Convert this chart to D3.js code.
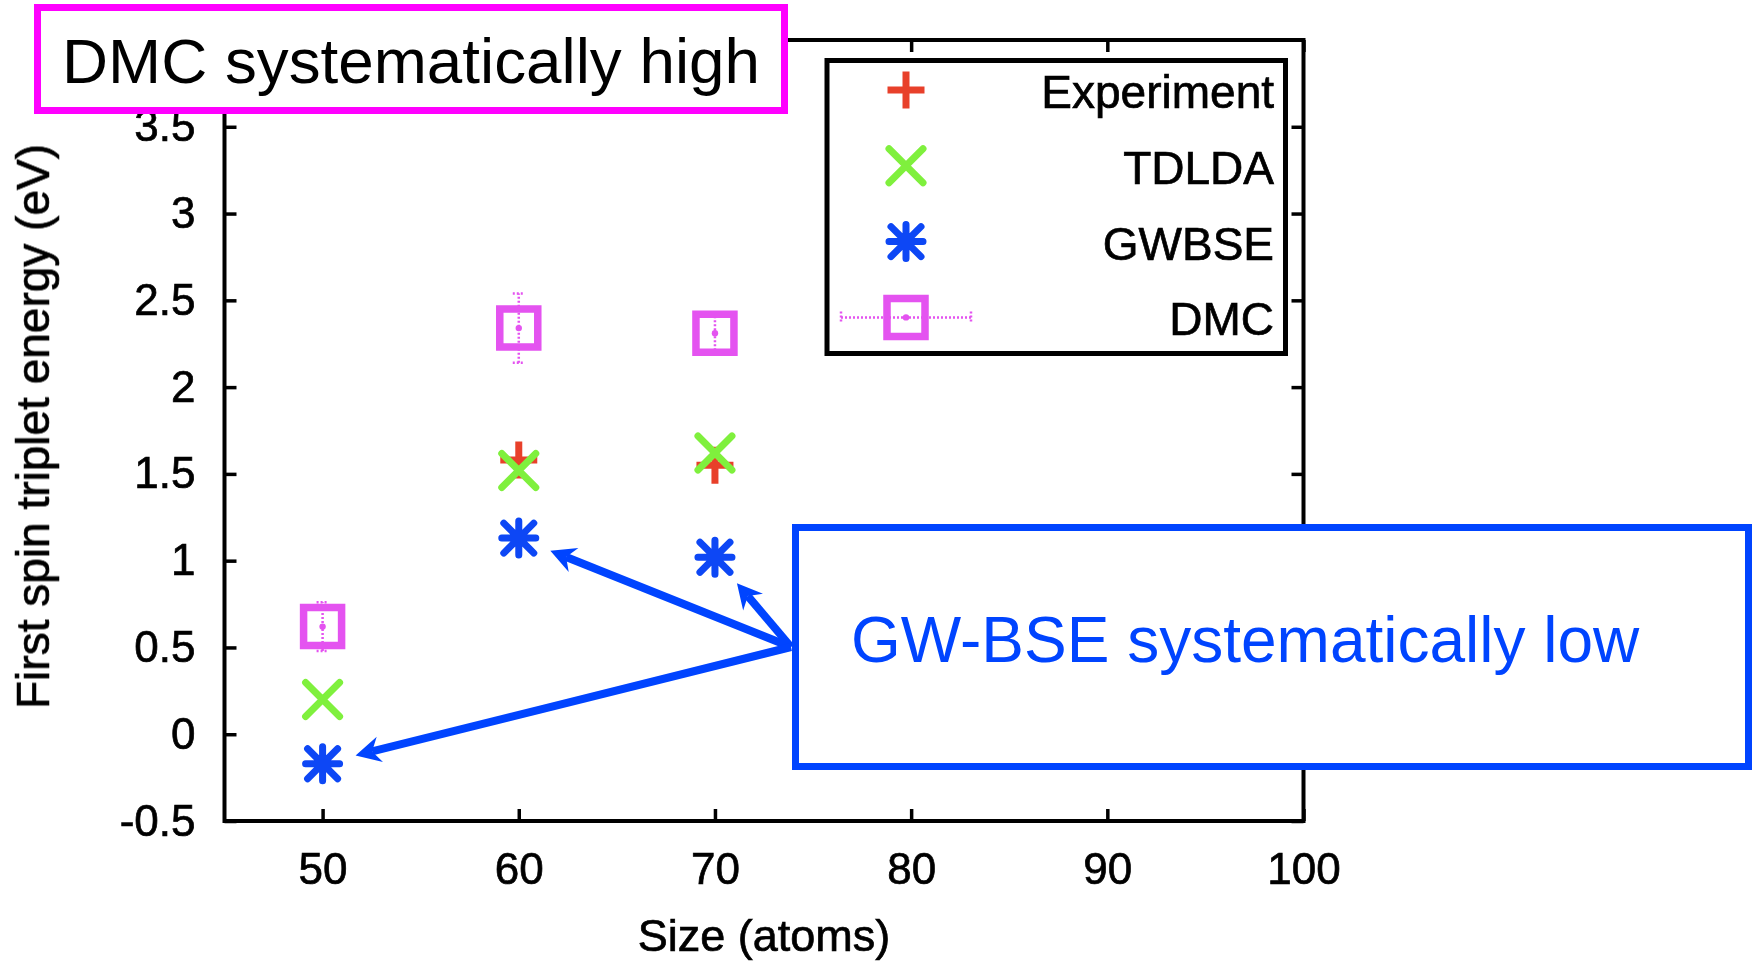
<!DOCTYPE html>
<html>
<head>
<meta charset="utf-8">
<script src="https://cdn.jsdelivr.net/npm/d3@7"></script>
<style>
  html, body { margin: 0; padding: 0; background: #fff; }
  svg { display: block; font-family: "Liberation Sans", Arial, Helvetica, sans-serif; }
</style>
</head>
<body>
<svg id="chart" width="1755" height="963"></svg>
<script>
// Cluster size (number of atoms)
const sizes = [50, 60, 70];
// First spin-triplet excitation energies (eV); null = no measurement
const experiment = [null, 1.58, 1.55];
const tdlda = [0.2, 1.52, 1.62];
const gwbse = [-0.17, 1.13, 1.02];
const dmc = [0.62, 2.34, 2.31];
const dmcErr = [0.14, 0.2, 0.12];

const xTicks = [50, 60, 70, 80, 90, 100];
const yTicks = [-0.5, 0, 0.5, 1, 1.5, 2, 2.5, 3, 3.5];
const seriesNames = ["Experiment", "TDLDA", "GWBSE", "DMC"];
const seriesColors = ["#e8412c", "#7ff03c", "#0b46f5", "#e452f0"];

const dmcNote = "DMC systematically high";
const gwNote = "GW-BSE systematically low";
// GWBSE points singled out by the callout arrows
const gwArrowSizes = [60, 70, 50];

const svg = d3.select("#chart");
const x = d3.scaleLinear().domain([45, 100]).range([224.5, 1303.5]);
const y = d3.scaleLinear().domain([-0.5, 4]).range([821, 40]);

const defs = svg.append("defs");
defs.append("filter").attr("id", "soft")
  .attr("x", "-5%").attr("y", "-5%").attr("width", "110%").attr("height", "110%")
  .append("feGaussianBlur").attr("stdDeviation", 0.7);

const chart = svg.append("g").attr("filter", "url(#soft)");
const ink = "#000";

// ---- axes with inward ticks on all four sides ----
const tickFont = 44;
const gx = chart.append("g").attr("transform", `translate(0,${y.range()[0]})`)
  .call(d3.axisBottom(x).tickValues(xTicks).tickSize(-12).tickPadding(32).tickFormat(d3.format("d")));
const gy = chart.append("g").attr("transform", `translate(${x.range()[0]},0)`)
  .call(d3.axisLeft(y).tickValues(yTicks).tickSize(-12).tickPadding(29).tickFormat(d => String(d)));
const gt = chart.append("g").attr("transform", `translate(0,${y.range()[1]})`)
  .call(d3.axisTop(x).tickValues(xTicks).tickSize(-12).tickFormat(""));
const gr = chart.append("g").attr("transform", `translate(${x.range()[1]},0)`)
  .call(d3.axisRight(y).tickValues(yTicks).tickSize(-12).tickFormat(""));

[gx, gy, gt, gr].forEach(g => {
  g.select(".domain").remove();
  g.selectAll(".tick line").attr("stroke", ink).attr("stroke-width", 3.5);
  g.selectAll(".tick text").attr("fill", ink).attr("font-size", tickFont)
    .attr("stroke", ink).attr("stroke-width", 0.7)
    .attr("font-family", "Liberation Sans, Arial, sans-serif");
});

chart.append("rect")
  .attr("x", x.range()[0]).attr("y", y.range()[1])
  .attr("width", x.range()[1] - x.range()[0]).attr("height", y.range()[0] - y.range()[1])
  .attr("fill", "none").attr("stroke", ink).attr("stroke-width", 4);

// axis titles
chart.append("text")
  .attr("x", (x.range()[0] + x.range()[1]) / 2).attr("y", 951)
  .attr("text-anchor", "middle").attr("font-size", 45).attr("fill", ink)
  .attr("stroke", ink).attr("stroke-width", 0.7)
  .text("Size (atoms)");
chart.append("text")
  .attr("transform", `translate(49,${(y.range()[0] + y.range()[1]) / 2 - 4}) rotate(-90)`)
  .attr("text-anchor", "middle").attr("font-size", 46).attr("fill", ink)
  .attr("stroke", ink).attr("stroke-width", 0.7)
  .text("First spin triplet energy (eV)");

// ---- point symbols ----
const sym = {
  plus: "M-18.5,0H18.5M0,-18.5V18.5",
  cross: "M-17,-17L17,17M-17,17L17,-17",
  star: "M-17,0H17M0,-17V17M-15,-15L15,15M-15,15L15,-15",
  square: "M-19,-19H19V19H-19Z"
};

function drawSymbol(g, kind, color) {
  g.append("path").attr("d", sym[kind]).attr("fill", "none")
    .attr("stroke", color).attr("stroke-width", kind === "square" ? 7.5 : 7)
    .attr("stroke-linecap", kind === "plus" ? "butt" : "round")
    .attr("stroke-linejoin", "miter");
}

const pts = chart.append("g");
const rows = sizes.map((s, i) => ({ s, e: experiment[i], t: tdlda[i], g: gwbse[i], d: dmc[i], err: dmcErr[i] }));

// DMC error bars (dotted, with caps)
rows.forEach(r => {
  const cx = x(r.s), y0 = y(r.d - r.err), y1 = y(r.d + r.err);
  const eb = pts.append("g").attr("stroke", seriesColors[3]).attr("stroke-width", 2.5)
    .attr("stroke-dasharray", "2,2");
  eb.append("line").attr("x1", cx).attr("x2", cx).attr("y1", y0).attr("y2", y1);
  eb.append("line").attr("x1", cx - 6).attr("x2", cx + 6).attr("y1", y0).attr("y2", y0);
  eb.append("line").attr("x1", cx - 6).attr("x2", cx + 6).attr("y1", y1).attr("y2", y1);
  pts.append("circle").attr("cx", cx).attr("cy", y(r.d)).attr("r", 3.2).attr("fill", seriesColors[3]);
});

rows.forEach(r => {
  drawSymbol(pts.append("g").attr("transform", `translate(${x(r.s)},${y(r.d)})`), "square", seriesColors[3]);
  if (r.e !== null) drawSymbol(pts.append("g").attr("transform", `translate(${x(r.s)},${y(r.e)})`), "plus", seriesColors[0]);
  drawSymbol(pts.append("g").attr("transform", `translate(${x(r.s)},${y(r.t)})`), "cross", seriesColors[1]);
  drawSymbol(pts.append("g").attr("transform", `translate(${x(r.s)},${y(r.g)})`), "star", seriesColors[2]);
});

// ---- key ----
const key = chart.append("g");
key.append("rect").attr("x", 827).attr("y", 60.5).attr("width", 458.5).attr("height", 293)
  .attr("fill", "#fff").attr("stroke", ink).attr("stroke-width", 5);
const kinds = ["plus", "cross", "star", "square"];
seriesNames.forEach((name, i) => {
  const cy = 90 + i * 75.8;
  const g = key.append("g").attr("transform", `translate(906,${cy})`);
  if (kinds[i] === "square") {
    const eb = g.append("g").attr("stroke", seriesColors[3]).attr("stroke-width", 2.5).attr("stroke-dasharray", "2,2");
    eb.append("line").attr("x1", -65).attr("x2", 65).attr("y1", 0).attr("y2", 0);
    eb.append("line").attr("x1", -65).attr("x2", -65).attr("y1", -6).attr("y2", 6);
    eb.append("line").attr("x1", 65).attr("x2", 65).attr("y1", -6).attr("y2", 6);
    g.append("circle").attr("r", 3.2).attr("fill", seriesColors[3]);
  }
  drawSymbol(g, kinds[i], seriesColors[i]);
  key.append("text").attr("x", 1274).attr("y", cy + 18).attr("text-anchor", "end")
    .attr("font-size", 46).attr("fill", ink).attr("stroke", ink).attr("stroke-width", 0.7)
    .text(name);
});

// ---- callouts ----
const noteBlue = "#0044ff";
const notes = svg.append("g");

notes.append("rect").attr("x", 37.5).attr("y", 7.5).attr("width", 747).attr("height", 103)
  .attr("fill", "#fff").attr("stroke", "#ff00ff").attr("stroke-width", 7);
notes.append("text").attr("x", 62).attr("y", 83).attr("font-size", 63).attr("fill", "#000")
  .attr("textLength", 698).attr("lengthAdjust", "spacingAndGlyphs")
  .text(dmcNote);

// arrows from the GW-BSE box toward the GWBSE points
const origin = [791, 647];
gwArrowSizes.forEach(s => {
  const i = sizes.indexOf(s);
  const px = x(s), py = y(gwbse[i]);
  const dx = origin[0] - px, dy = origin[1] - py, len = Math.hypot(dx, dy);
  const ux = dx / len, uy = dy / len;
  const tip = [px + 34 * ux, py + 34 * uy];
  const nx = -uy, ny = ux;
  const headLen = 25, half = 13, notch = 17;
  notes.append("line")
    .attr("x1", origin[0]).attr("y1", origin[1])
    .attr("x2", tip[0] + ux * notch).attr("y2", tip[1] + uy * notch)
    .attr("stroke", noteBlue).attr("stroke-width", 8);
  const b = [tip[0] + ux * headLen, tip[1] + uy * headLen];
  const n = [tip[0] + ux * notch, tip[1] + uy * notch];
  notes.append("path")
    .attr("d", `M${tip[0]},${tip[1]}L${b[0] + nx * half},${b[1] + ny * half}L${n[0]},${n[1]}L${b[0] - nx * half},${b[1] - ny * half}Z`)
    .attr("fill", noteBlue);
});

notes.append("rect").attr("x", 795.5).attr("y", 527.5).attr("width", 953).attr("height", 239)
  .attr("fill", "#fff").attr("stroke", noteBlue).attr("stroke-width", 7);
notes.append("text").attr("x", 851).attr("y", 662).attr("font-size", 64).attr("fill", noteBlue)
  .text(gwNote);
</script>
</body>
</html>
